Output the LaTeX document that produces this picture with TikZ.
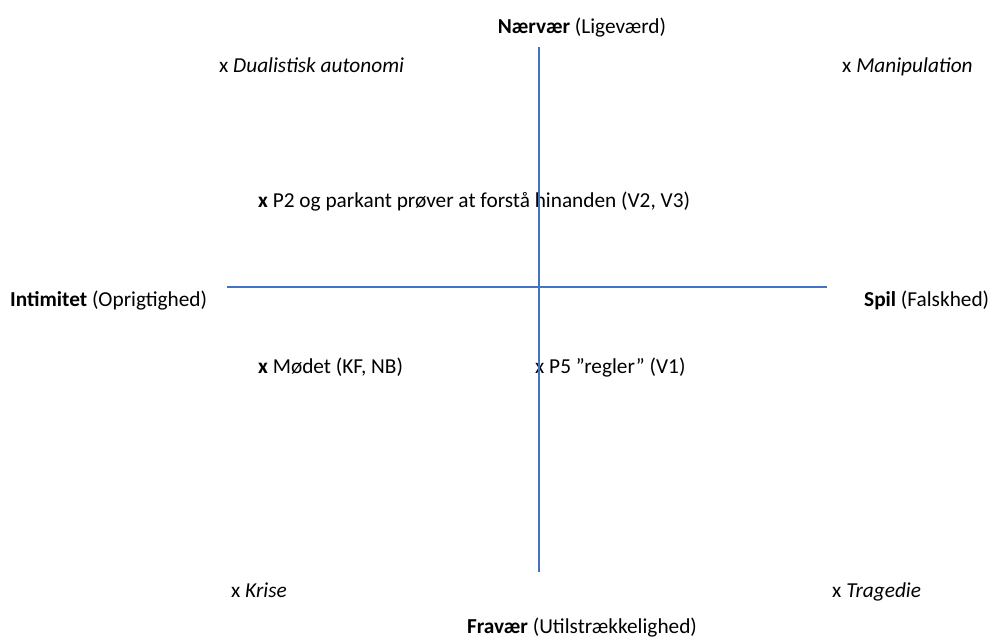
\documentclass[tikz,border=0pt]{standalone}
\usepackage{fontspec}
\setmainfont{Carlito}
\definecolor{axisblue}{HTML}{4472C4}
\begin{document}
\begin{tikzpicture}[x=1pt,y=-1pt,
  lbl/.style={inner sep=0pt,font=\fontsize{21.3}{25}\selectfont},
  axisline/.style={draw=axisblue,line width=2.5pt}]
\useasboundingbox (0,0) rectangle (993,642);
\coordinate (vtop) at (539,47);
\coordinate (vbot) at (539,572);
\coordinate (hleft) at (227,287);
\coordinate (hright) at (827,287);
\node[lbl,anchor=base] (naer) at (582,34) {\textbf{Nærvær} (Ligeværd)};
\node[lbl,anchor=base west] (dual) at (219,72) {x \textit{Dualistisk autonomi}};
\node[lbl,anchor=base west] (mani) at (842,72) {x \textit{Manipulation}};
\node[lbl,anchor=base west] (p2) at (258,207) {\textbf{x} P2 og parkant prøver at forstå hinanden (V2, V3)};
\node[lbl,anchor=base west] (inti) at (10,306) {\textbf{Intimitet} (Oprigtighed)};
\node[lbl,anchor=base west] (spil) at (864,306) {\textbf{Spil} (Falskhed)};
\node[lbl,anchor=base west] (mode) at (258,373) {\textbf{x} Mødet (KF, NB)};
\node[lbl,anchor=base west] (p5) at (535,373) {x P5 ”regler” (V1)};
\node[lbl,anchor=base west] (kris) at (231,597) {x \textit{Krise}};
\node[lbl,anchor=base west] (trag) at (832,597) {x \textit{Tragedie}};
\node[lbl,anchor=base] (frav) at (582,633) {\textbf{Fravær} (Utilstrækkelighed)};
\draw[axisline] (vtop) -- (vbot);
\draw[axisline] (hleft) -- (hright);
\end{tikzpicture}
\end{document}
